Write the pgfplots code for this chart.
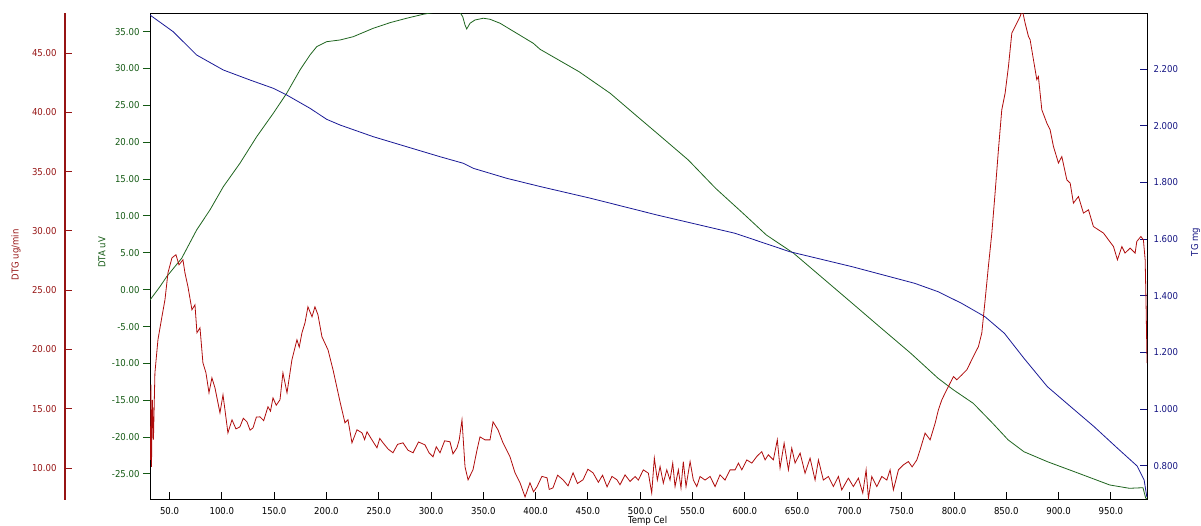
\documentclass[border=0pt]{standalone}
\usepackage{fontspec}
\setmainfont{DejaVu Sans Condensed}
\usepackage{pgfplots}
\pgfplotsset{compat=1.18}
\definecolor{dtgc}{RGB}{150,20,20}
\definecolor{dtac}{RGB}{20,90,20}
\definecolor{tgc}{RGB}{20,20,130}
\definecolor{redline}{RGB}{175,12,12}
\definecolor{greenline}{RGB}{30,100,30}
\definecolor{blueline}{RGB}{25,25,150}
\newcommand\lab{\fontsize{9.5bp}{11bp}\selectfont}
\begin{document}
\begin{tikzpicture}
\useasboundingbox (-150bp,-26.5bp) rectangle (1051bp,499.5bp);
\pgfplotsset{base/.style={at={(0,0)}, anchor=south west, scale only axis,
  width=997bp, height=486.2bp, xmin=31.3, xmax=984.6,
  major tick length=7bp, tick label style={font=\lab}}}
% ---------- DTA (green), main frame ----------
\begin{axis}[base, ymin=-28.46, ymax=37.49,
  axis line style={black, line width=0.9bp},
  xtick={50,100,...,950},
  xticklabels={50.0,100.0,150.0,200.0,250.0,300.0,350.0,400.0,450.0,500.0,550.0,600.0,650.0,700.0,750.0,800.0,850.0,900.0,950.0},
  xtick align=inside, xtick pos=bottom,
  x tick style={black, line width=0.9bp},
  xticklabel style={yshift=-4.4bp},
  ytick={-25,-20,-15,-10,-5,0,5,10,15,20,25,30,35},
  yticklabels={-25.00,-20.00,-15.00,-10.00,-5.00,0.00,5.00,10.00,15.00,20.00,25.00,30.00,35.00},
  ytick align=outside, ytick pos=left,
  y tick style={dtac, line width=1bp},
  yticklabel style={text=dtac},
]
\addplot[greenline, line width=0.8bp] coordinates {
(31.3,-1.40) (40.8,0.41) (47.2,1.76) (61.6,4.26) (75.9,8.10) (88.6,10.81)
(101.4,13.97) (117.3,17.15) (133.3,20.75) (149.2,23.93) (162.0,26.64)
(174.7,29.80) (184.3,31.84) (190.7,32.96) (200.2,33.64) (213.0,33.87)
(225.7,34.32) (244.8,35.46) (260.8,36.22) (276.7,36.82) (292.6,37.36)
(302.2,37.6) (315,37.8) (327.7,37.6) (330.3,37.03) (332.5,35.91) (334.1,35.36)
(337.3,36.14) (342.0,36.58) (350.0,36.82) (356.4,36.68) (366.0,36.14)
(381.9,34.78) (397.8,33.42) (404.2,32.61) (441.5,29.57) (471.3,26.64)
(497.4,23.47) (516.1,21.22) (546.0,17.59) (572.1,13.75) (598.3,10.36)
(620.6,7.42) (646.7,4.94) (676.6,1.32) (702.7,-1.84) (728.8,-5.02)
(758.7,-8.63) (784.8,-12.02) (799.7,-13.61) (818.4,-15.41) (837.0,-18.12)
(851.9,-20.39) (866.9,-21.98) (889.3,-23.33) (919.1,-24.90) (948.9,-26.49)
(967.7,-26.94) (980.7,-26.86) (983.3,-28.26) (984.6,-28.4)
};
\end{axis}
% ---------- TG (blue), right axis ----------
\begin{axis}[base, ymin=0.6809, ymax=2.3966,
  hide x axis, axis y line*=right,
  y axis line style={-, black, line width=0.9bp},
  ytick={0.8,1.0,1.2,1.4,1.6,1.8,2.0,2.2},
  yticklabels={0.800,1.000,1.200,1.400,1.600,1.800,2.000,2.200},
  ytick align=inside,
  y tick style={tgc, line width=1bp},
  yticklabel style={text=tgc, xshift=3bp},
]
\addplot[blueline, line width=0.8bp] coordinates {
(31.3,2.3905) (53.5,2.3316) (75.9,2.2494) (101.4,2.1965) (126.9,2.1612)
(149.2,2.1319) (162.0,2.1083) (184.3,2.0613) (200.2,2.0225) (213.0,2.0024)
(244.8,1.9611) (276.7,1.9258) (308.6,1.8905) (330.9,1.8673) (340.4,1.8496)
(372.4,1.8143) (404.2,1.7854) (452.7,1.7438) (516.1,1.6848) (590.7,1.6203)
(643.0,1.5553) (672.0,1.5296) (702.6,1.5024) (762.4,1.4438) (784.8,1.4142)
(807.2,1.3733) (829.6,1.3260) (848.2,1.2674) (866.9,1.1792) (889.3,1.0790)
(911.6,1.0084) (934.0,0.9378) (956.4,0.8616) (975.1,0.7991) (981.8,0.7498)
(984.4,0.6898)
};
\end{axis}
% ---------- DTG (red) curve ----------
\begin{axis}[base, ymin=7.35, ymax=48.35, hide axis]
\addplot[redline, line width=0.8bp] coordinates {
(31.3,13.23) (31.7,10.70) (32.2,17.04) (32.7,10.11) (33.6,15.76) (34.6,12.39)
(36.0,18.03) (38.9,20.82) (42.7,22.76) (45.6,24.19) (48.5,26.47) (52.3,27.73)
(56.1,27.99) (59.0,27.14) (62.8,27.56) (64.7,26.47) (67.6,25.29) (71.4,23.35)
(74.3,23.77) (76.2,21.41) (79.1,21.83) (81.9,18.88) (84.8,18.03) (87.7,16.35)
(90.5,17.61) (93.4,16.77) (98.2,14.66) (101.1,16.18) (105.8,12.97) (109.7,14.07)
(113.5,13.3) (117.3,13.48) (120.5,14.2) (124.0,13.90) (127,13.2) (129.8,13.39)
(133,14.3) (136.5,14.32) (140,14.0) (144.1,15.17) (146.5,14.8) (148.9,15.92)
(152,15.3) (155.6,15.76) (158.4,18.03) (162.3,16.35) (167.0,19.13) (171.8,20.82)
(174,20.2) (176.6,21.41) (179.5,22.25) (182.3,23.60) (186.2,22.76) (189.0,23.60)
(191.9,22.92) (195.7,21.07) (201.5,19.97) (206.3,18.29) (213.0,15.59) (217.7,13.82)
(220.6,14.07) (224.4,12.13) (229.2,13.23) (234.0,12.97) (236.5,12.4) (238.8,13.06)
(243.5,12.38) (248.3,11.71) (251,12.5) (254.1,12.13) (259,11.6) (263.6,11.29)
(268,12.0) (273.2,12.13) (278,11.5) (282.8,11.29) (288,12.2) (294.2,11.96)
(298,11.3) (301.9,10.95) (305,11.8) (308.6,11.29) (313,12.3) (318.1,12.22)
(321,11.2) (324.8,11.71) (327,12.4) (329.6,14.07) (332.5,10.10) (335.4,9.01)
(340.1,9.85) (344.0,11.54) (346.8,12.63) (351.6,12.38) (356.4,12.38) (359.3,13.90)
(364.0,13.23) (368.8,12.13) (375.5,10.95) (380.3,9.60) (385.1,8.76) (389.9,7.57)
(394.6,8.76) (398,8.0) (401.3,8.42) (406,9.3) (410.9,9.18) (413,8.2) (416.6,8.33)
(421,9.4) (426.2,9.01) (431,8.5) (435.8,9.60) (440,8.7) (445.3,9.01) (450,9.9)
(454.9,9.60) (460,8.8) (464,9.4) (468.3,8.42) (473,9.3) (477.8,9.01)
(480.7,8.59) (485.5,9.43) (490.3,8.87) (495.1,9.29) (498.2,8.99) (503.0,9.85)
(507.8,9.57) (511.0,7.89) (513.5,10.84) (516.4,8.99) (519.0,10.13) (522.1,8.73)
(525.4,9.85) (528.5,8.99) (531.1,10.42) (533.3,8.44) (536.5,9.85) (539.0,8.31)
(541.2,10.55) (543.8,8.44) (547.7,10.55) (550.8,8.99) (554.1,8.44) (557.2,9.29)
(562.0,8.99) (566.8,9.29) (571.6,8.44) (576.3,9.43) (581.1,8.99) (585.9,9.85)
(590.7,9.85) (593.9,10.42) (597.1,9.85) (601.9,10.69) (606.7,10.42) (611.4,10.97)
(616.2,11.39) (619.4,10.69) (622.5,11.12) (627.3,10.69) (631.1,12.38) (633.7,10.00)
(637.6,12.10) (641.7,9.85) (644.9,11.68) (648.1,10.42) (652.9,11.26) (657.6,9.57)
(662.4,10.84) (667.2,8.99) (670.4,10.69) (675.1,8.99) (679.9,9.29) (684.7,8.44)
(689.5,9.29) (692.7,8.16) (699.0,9.15) (703.8,8.44) (708.6,9.15) (712.8,7.89)
(716.0,9.85) (718.2,7.46) (721.4,9.29) (726.2,8.44) (731.0,9.29) (735.8,8.99)
(738.9,9.85) (742.1,8.16) (746.9,9.85) (751.6,10.27) (756.4,10.55) (760,10.1)
(764.5,10.69) (767.6,11.54) (772.4,12.95) (777.2,12.38) (782.0,13.79) (785.1,14.91)
(788.4,15.76) (791.5,16.32) (796.3,17.16) (799.5,17.72) (802.7,17.44) (807.5,17.86)
(812.3,18.29) (817.0,19.13) (820.2,19.70) (823.4,20.25) (826.6,21.38) (829.8,24.19)
(832.9,27.00) (836.2,29.82) (839.3,33.19) (842.5,36.84) (845.7,40.21) (848.9,41.62)
(852.1,43.87) (855.3,46.68) (860.1,47.53) (863.2,48.08) (865.4,48.6) (868.0,47.53)
(871.2,46.40) (872.8,46.12) (876.0,44.43) (879.2,42.75) (880.7,43.02) (884.0,40.21)
(888.8,39.09) (891.9,38.53) (895.1,37.12) (899.9,35.72) (903.1,36.27) (907.9,34.31)
(911.1,34.03) (914.2,32.34) (919.0,32.90) (923.8,31.50) (928.6,31.78) (933.3,30.37)
(938.1,30.09) (942.9,29.82) (947.7,29.25) (952.5,28.68) (956.3,27.56) (960.5,28.68)
(963.6,28.13) (968.4,28.55) (973.2,28.13) (974.8,29.11) (978.7,29.53) (981.1,29.25)
(982.8,27.56) (983.7,23.62) (984.6,18.85)
};
\end{axis}
% ---------- DTG offset axis ----------
\begin{axis}[at={(-85bp,0)}, anchor=south west, scale only axis,
  width=1bp, height=486.2bp, xmin=0, xmax=1, ymin=7.35, ymax=48.35,
  hide x axis, axis y line*=left,
  y axis line style={-, dtgc, line width=1.2bp},
  major tick length=7bp, tick label style={font=\lab},
  ytick={10,15,20,25,30,35,40,45},
  yticklabels={10.00,15.00,20.00,25.00,30.00,35.00,40.00,45.00},
  ytick align=inside,
  y tick style={dtgc, line width=1bp},
  yticklabel style={text=dtgc, xshift=-5bp},
]
\addplot[draw=none] coordinates {(0,20) (1,20)};
\end{axis}
\node[rotate=90, text=dtac, font=\lab] at (-48bp,247bp) {DTA uV};
\node[rotate=90, text=dtgc, font=\lab] at (-134bp,244.5bp) {DTG ug/min};
\node[rotate=90, text=tgc, font=\lab] at (1045.5bp,257.5bp) {TG mg};
\node[anchor=north west, inner sep=0pt, font=\lab] at (478bp,-16.5bp) {Temp Cel};
\end{tikzpicture}
\end{document}
